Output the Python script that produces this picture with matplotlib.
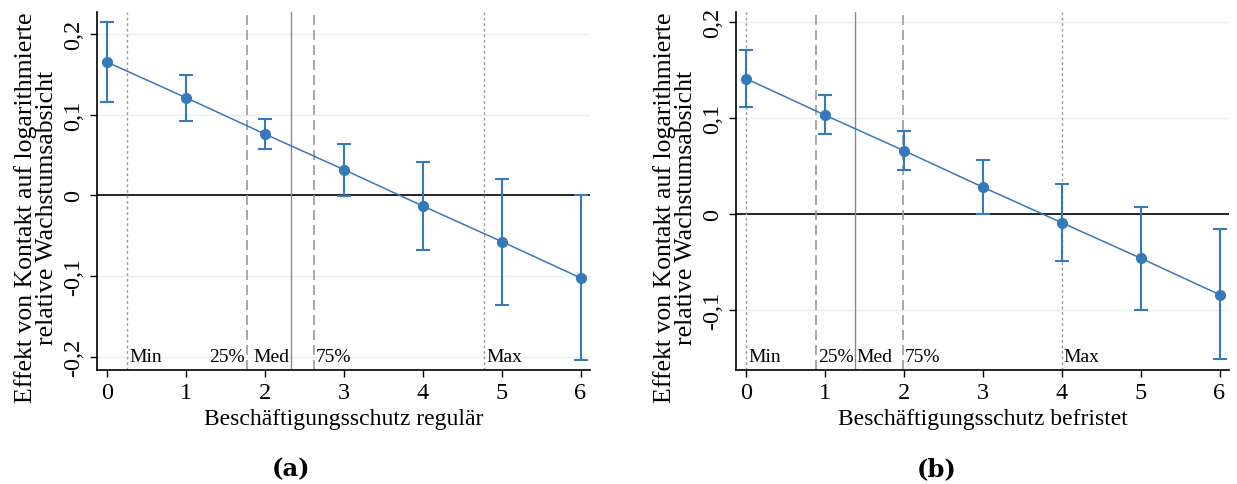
import matplotlib
matplotlib.use("Agg")
import matplotlib.pyplot as plt
import matplotlib.transforms as mtransforms

plt.rcParams['font.family'] = ['Liberation Serif', 'DejaVu Serif']

# ---- data ----
x_vals = [0, 1, 2, 3, 4, 5, 6]

a_est = [0.165, 0.121, 0.076, 0.032, -0.013, -0.057, -0.102]
a_hi = [0.215, 0.149, 0.095, 0.064, 0.042, 0.020, 0.000]
a_lo = [0.1155, 0.092, 0.057, -0.001, -0.067, -0.135, -0.204]
a_ref_names = ["Min", "25%", "Med", "75%", "Max"]
a_ref_pos = [0.255, 1.77, 2.33, 2.62, 4.78]
a_ref_ha = ["left", "right", "right", "left", "left"]

b_est = [0.141, 0.103, 0.066, 0.028, -0.009, -0.046, -0.084]
b_hi = [0.171, 0.124, 0.086, 0.056, 0.031, 0.007, -0.016]
b_lo = [0.111, 0.083, 0.046, 0.000, -0.049, -0.100, -0.151]
b_ref_names = ["Min", "25%", "Med", "75%", "Max"]
b_ref_pos = [0.0, 0.89, 1.375, 1.99, 4.0]
b_ref_ha = ["left", "left", "left", "left", "left"]

a_yticks = [-0.2, -0.1, 0.0, 0.1, 0.2]
a_yticklabels = ["-0,2", "-0,1", "0", "0,1", "0,2"]
b_yticks = [-0.1, 0.0, 0.1, 0.2]
b_yticklabels = ["-0,1", "0", "0,1", "0,2"]

xlabels = ["Beschäftigungsschutz regulär", "Beschäftigungsschutz befristet"]
ylabel = "Effekt von Kontakt auf logarithmierte\nrelative Wachstumsabsicht"
subcaps = ["(a)", "(b)"]

ref_styles = {
    "Min": dict(color="#9a9a9a", linestyle=(0, (2, 2)), linewidth=1.0),
    "Max": dict(color="#9a9a9a", linestyle=(0, (2, 2)), linewidth=1.0),
    "25%": dict(color="#9a9a9a", linestyle=(0, (6, 3)), linewidth=1.2),
    "75%": dict(color="#9a9a9a", linestyle=(0, (6, 3)), linewidth=1.2),
    "Med": dict(color="#8a8a8a", linestyle="-", linewidth=1.0),
}

blue = "#3679b8"
W, H = 1237, 485
fig = plt.figure(figsize=(W / 100, H / 100), dpi=100)

panels = [
    dict(box=(97, 590, 13, 371), est=a_est, hi=a_hi, lo=a_lo, names=a_ref_names,
         pos=a_ref_pos, ha=a_ref_ha, yt=a_yticks, ytl=a_yticklabels,
         ylim=(-0.216, 0.227), cap_x=291),
    dict(box=(736, 1229, 13, 371), est=b_est, hi=b_hi, lo=b_lo, names=b_ref_names,
         pos=b_ref_pos, ha=b_ref_ha, yt=b_yticks, ytl=b_yticklabels,
         ylim=(-0.1625, 0.2104), cap_x=937),
]

for i, p in enumerate(panels):
    l, r, t, b = p["box"]
    ax = fig.add_axes([l / W, 1 - b / H, (r - l) / W, (b - t) / H])
    ax.set_xlim(-0.127, 6.12)
    ax.set_ylim(*p["ylim"])
    for yv in p["yt"]:
        ax.axhline(yv, color="#e8efef", linewidth=1.0, zorder=0)
    ax.axhline(0, color="black", linewidth=1.2, zorder=1)
    trans = mtransforms.blended_transform_factory(ax.transData, ax.transAxes)
    for name, xp, ha in zip(p["names"], p["pos"], p["ha"]):
        ax.axvline(xp, zorder=1, **ref_styles[name])
        off = 0.025 if ha == "left" else -0.025
        ax.text(xp + off, 0.038, name, transform=trans, ha=ha, va="center",
                fontsize=14)
    yerr = [[e - lo for e, lo in zip(p["est"], p["lo"])],
            [hi - e for e, hi in zip(p["est"], p["hi"])]]
    ax.errorbar(x_vals, p["est"], yerr=yerr, fmt="none", ecolor=blue,
                elinewidth=1.5, capsize=5, capthick=1.5, zorder=3)
    ax.plot(x_vals, p["est"], color=blue, linewidth=1.1, marker="o",
            markersize=7, markerfacecolor=blue, markeredgecolor=blue, zorder=4)
    ax.set_xticks(x_vals)
    ax.set_xticklabels([str(v) for v in x_vals], fontsize=17.5)
    ax.set_yticks(p["yt"])
    ax.set_yticklabels(p["ytl"], fontsize=17.5, rotation=90, va="center")
    ax.tick_params(direction="out", length=5, width=1.0, pad=4)
    for s in ["top", "right"]:
        ax.spines[s].set_visible(False)
    for s in ["left", "bottom"]:
        ax.spines[s].set_linewidth(1.2)
    ax.set_xlabel(xlabels[i], fontsize=17, labelpad=3)
    ax.set_ylabel(ylabel, fontsize=18.5, labelpad=4, linespacing=0.95)
    ax.yaxis.label.set_y(0.455)
    fig.text(p["cap_x"] / W, 1 - 469 / H, subcaps[i], ha="center", va="center",
             fontsize=17.5, fontweight="bold", family=["DejaVu Serif"])

fig.savefig("out.png", dpi=100)
